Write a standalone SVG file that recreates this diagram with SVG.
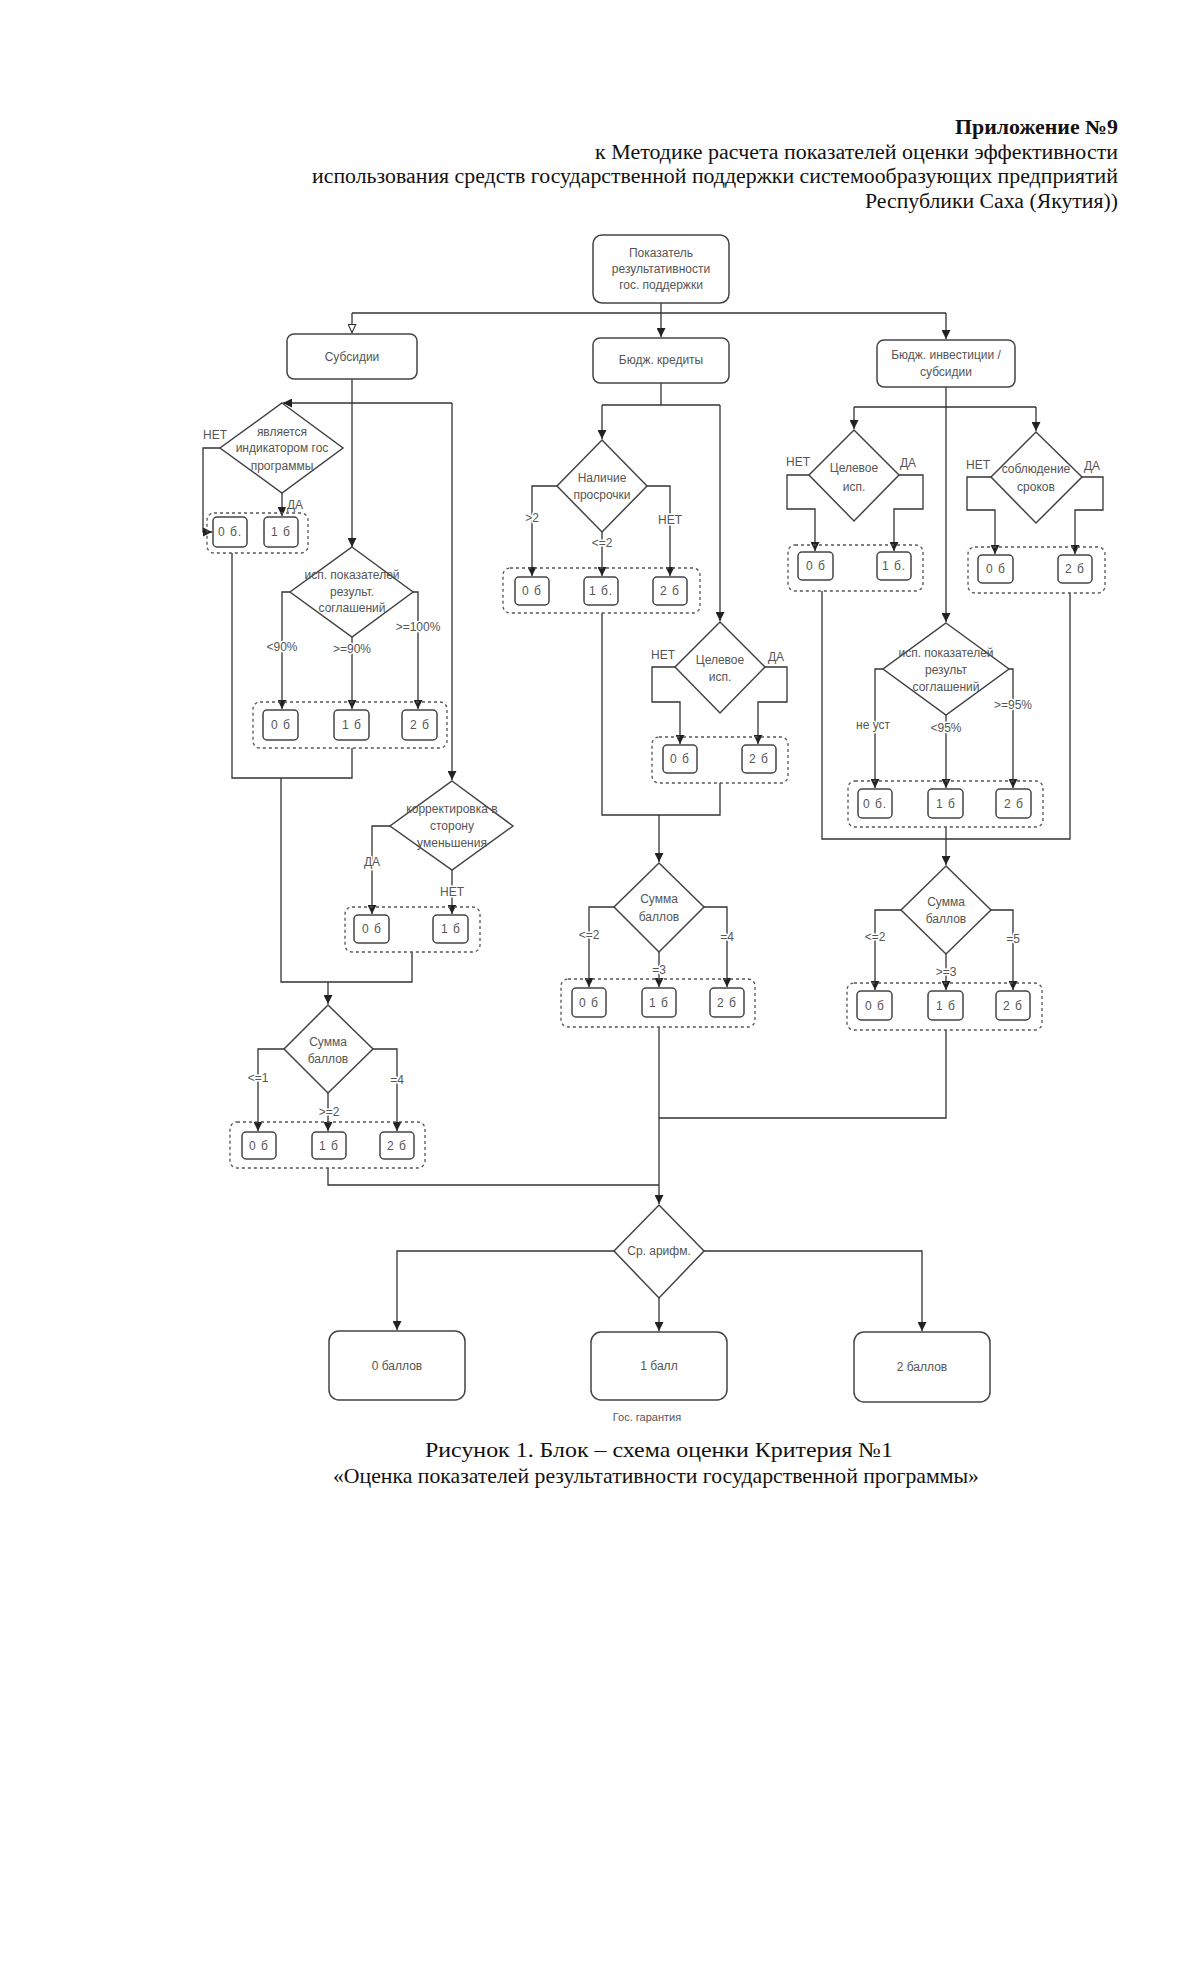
<svg xmlns="http://www.w3.org/2000/svg" width="1200" height="1976" viewBox="0 0 1200 1976">
<defs>
<style>
.hd{font-family:"Liberation Serif","Times New Roman",serif;font-size:20px;fill:#111}
.hb{font-weight:bold}
.cap{font-family:"Liberation Serif","Times New Roman",serif;font-size:21px;fill:#111;text-anchor:middle}
.t{font-family:"Liberation Sans",Arial,sans-serif;font-size:12px;fill:#555;text-anchor:middle}
.sm{font-size:11px}
.b{font-family:"Liberation Sans",Arial,sans-serif;font-size:12px;fill:#555;text-anchor:middle;letter-spacing:1px}
.l{font-family:"Liberation Sans",Arial,sans-serif;font-size:12px;fill:#555;text-anchor:middle;stroke:#fff;stroke-width:3px;paint-order:stroke;stroke-linejoin:round}
.nb{fill:#fff;stroke:#444;stroke-width:1.5}
.dm{fill:#fff;stroke:#444;stroke-width:1.5}
.sb{fill:#fff;stroke:#444;stroke-width:1.5}
.grp{fill:none;stroke:#555;stroke-width:1.3;stroke-dasharray:3 3}
.c{fill:none;stroke:#333;stroke-width:1.3}
.ca{fill:none;stroke:#333;stroke-width:1.3;marker-end:url(#a)}
.co{fill:none;stroke:#333;stroke-width:1.3;marker-end:url(#ao)}
</style>
<marker id="a" viewBox="0 0 10 10" refX="10" refY="5" markerWidth="9" markerHeight="9" markerUnits="userSpaceOnUse" orient="auto"><path d="M0,0 L10,5 L0,10 z" fill="#222"/></marker>
<marker id="ao" viewBox="0 0 10 10" refX="10" refY="5" markerWidth="9" markerHeight="9" markerUnits="userSpaceOnUse" orient="auto"><path d="M0.5,0.8 L9.5,5 L0.5,9.2 z" fill="#fff" stroke="#333" stroke-width="1.2"/></marker>
</defs>
<rect width="1200" height="1976" fill="#fff"/>

<g id="header">
<text class="hd hb" x="1118" y="134" text-anchor="end" textLength="163" lengthAdjust="spacingAndGlyphs">Приложение №9</text>
<text class="hd" x="1118" y="159" text-anchor="end" textLength="523" lengthAdjust="spacingAndGlyphs">к Методике расчета показателей оценки эффективности</text>
<text class="hd" x="1118" y="183" text-anchor="end" textLength="806" lengthAdjust="spacingAndGlyphs">использования средств государственной поддержки системообразующих предприятий</text>
<text class="hd" x="1118" y="208" text-anchor="end" textLength="253" lengthAdjust="spacingAndGlyphs">Республики Саха (Якутия))</text>
</g>

<g id="connectors">
<path class="c" d="M661,303 V313 M352,313 H946"/>
<path class="co" d="M352,313 V333"/>
<path class="ca" d="M661,313 V337"/>
<path class="ca" d="M946,313 V339"/>
<path class="ca" d="M352,379 V547"/>
<path class="ca" d="M452,403 H283"/>
<path class="ca" d="M452,403 V780"/>
<path class="ca" d="M220,448 H203 V532 H212"/>
<path class="ca" d="M282,493 V516"/>
<path class="c" d="M232,553 V778 H352 V748"/>
<path class="c" d="M281,778 V982 H412 V952"/>
<path class="ca" d="M328,982 V1004"/>
<path class="ca" d="M290,592 H282 V709"/>
<path class="ca" d="M352,637 V709"/>
<path class="ca" d="M413,592 H418 V709"/>
<path class="ca" d="M390,826 H372 V914"/>
<path class="ca" d="M452,870 V914"/>
<path class="ca" d="M284,1049 H258 V1131"/>
<path class="ca" d="M328,1093 V1131"/>
<path class="ca" d="M373,1049 H397 V1131"/>
<path class="c" d="M328,1168 V1185 H659"/>
<path class="c" d="M661,383 V405 M602,405 H720"/>
<path class="ca" d="M602,405 V439"/>
<path class="ca" d="M720,405 V621"/>
<path class="ca" d="M557,486 H532 V576"/>
<path class="ca" d="M602,532 V576"/>
<path class="ca" d="M647,486 H670 V576"/>
<path class="c" d="M602,613 V815 H720 V783"/>
<path class="ca" d="M659,815 V862"/>
<path class="ca" d="M675,667 H652 V702 H680 V744"/>
<path class="ca" d="M765,667 H787 V702 H758 V744"/>
<path class="ca" d="M614,907 H589 V987"/>
<path class="ca" d="M659,952 V987"/>
<path class="ca" d="M704,907 H727 V987"/>
<path class="ca" d="M659,1027 V1204"/>
<path class="ca" d="M946,387 V622"/>
<path class="c" d="M854,407 H1036"/>
<path class="ca" d="M854,407 V429"/>
<path class="ca" d="M1036,407 V431"/>
<path class="ca" d="M809,475 H787 V509 H815 V551"/>
<path class="ca" d="M899,475 H923 V509 H894 V551"/>
<path class="ca" d="M991,477 H967 V510 H995 V554"/>
<path class="ca" d="M1082,477 H1103 V510 H1075 V554"/>
<path class="c" d="M822,591 V839 H1070 V593"/>
<path class="ca" d="M946,827 V865"/>
<path class="ca" d="M883,669 H875 V788"/>
<path class="ca" d="M946,715 V788"/>
<path class="ca" d="M1009,669 H1013 V788"/>
<path class="ca" d="M901,910 H875 V990"/>
<path class="ca" d="M946,954 V990"/>
<path class="ca" d="M991,910 H1013 V990"/>
<path class="c" d="M946,1030 V1118 H659"/>
<path class="ca" d="M614,1251 H397 V1330"/>
<path class="ca" d="M704,1251 H922 V1331"/>
<path class="ca" d="M659,1298 V1331"/>
</g>

<g id="edge-labels">
<text class="l" x="215" y="439">НЕТ</text>
<text class="l" x="295" y="509">ДА</text>
<text class="l" x="282" y="651">&lt;90%</text>
<text class="l" x="352" y="653">&gt;=90%</text>
<text class="l" x="418" y="631">&gt;=100%</text>
<text class="l" x="372" y="866">ДА</text>
<text class="l" x="452" y="896">НЕТ</text>
<text class="l" x="258" y="1082">&lt;=1</text>
<text class="l" x="329" y="1116">&gt;=2</text>
<text class="l" x="397" y="1084">=4</text>
<text class="l" x="532" y="522">&gt;2</text>
<text class="l" x="602" y="547">&lt;=2</text>
<text class="l" x="670" y="524">НЕТ</text>
<text class="l" x="663" y="659">НЕТ</text>
<text class="l" x="776" y="661">ДА</text>
<text class="l" x="589" y="939">&lt;=2</text>
<text class="l" x="659" y="974">=3</text>
<text class="l" x="727" y="941">=4</text>
<text class="l" x="798" y="466">НЕТ</text>
<text class="l" x="908" y="467">ДА</text>
<text class="l" x="978" y="469">НЕТ</text>
<text class="l" x="1092" y="470">ДА</text>
<text class="l" x="873" y="729">не уст</text>
<text class="l" x="946" y="732">&lt;95%</text>
<text class="l" x="1013" y="709">&gt;=95%</text>
<text class="l" x="875" y="941">&lt;=2</text>
<text class="l" x="946" y="976">&gt;=3</text>
<text class="l" x="1013" y="943">=5</text>
</g>

<g id="n-root">
<rect class="nb" x="593" y="235" width="136" height="68" rx="9"/>
<text class="t" x="661" y="257">Показатель</text>
<text class="t" x="661" y="273">результативности</text>
<text class="t" x="661" y="289">гос. поддержки</text>
</g>
<g id="n-subsidii">
<rect class="nb" x="287" y="334" width="130" height="45" rx="7"/>
<text class="t" x="352" y="361">Субсидии</text>
</g>
<g id="n-kredity">
<rect class="nb" x="593" y="338" width="136" height="45" rx="7"/>
<text class="t" x="661" y="364">Бюдж. кредиты</text>
</g>
<g id="n-invest">
<rect class="nb" x="877" y="340" width="138" height="47" rx="7"/>
<text class="t" x="946" y="359">Бюдж. инвестиции /</text>
<text class="t" x="946" y="376">субсидии</text>
</g>

<g id="d-indikator">
<polygon class="dm" points="282,403 343,448 282,493 220,448"/>
<text class="t" x="282" y="436">является</text>
<text class="t" x="282" y="452">индикатором гос</text>
<text class="t" x="282" y="470">программы</text>
</g>
<g id="g1">
<rect class="grp" x="207" y="513" width="101" height="40" rx="7"/>
<rect class="sb" x="213" y="517" width="34" height="30" rx="4"/>
<text class="b" x="230" y="536">0 б.</text>
<rect class="sb" x="264" y="517" width="34" height="30" rx="4"/>
<text class="b" x="281" y="536">1 б</text>
</g>
<g id="d-isp-left">
<polygon class="dm" points="352,547 413,592 352,637 290,592"/>
<text class="t" x="352" y="579">исп. показателей</text>
<text class="t" x="352" y="596">результ.</text>
<text class="t" x="352" y="612">соглашений</text>
</g>
<g id="g2">
<rect class="grp" x="253" y="702" width="194" height="46" rx="7"/>
<rect class="sb" x="263" y="710" width="35" height="30" rx="4"/>
<text class="b" x="281" y="729">0 б</text>
<rect class="sb" x="334" y="710" width="35" height="30" rx="4"/>
<text class="b" x="352" y="729">1 б</text>
<rect class="sb" x="402" y="710" width="35" height="30" rx="4"/>
<text class="b" x="420" y="729">2 б</text>
</g>
<g id="d-korrekt">
<polygon class="dm" points="452,781 513,826 452,870 390,826"/>
<text class="t" x="452" y="813">корректировка в</text>
<text class="t" x="452" y="830">сторону</text>
<text class="t" x="452" y="847">уменьшения</text>
</g>
<g id="g3">
<rect class="grp" x="345" y="907" width="135" height="45" rx="7"/>
<rect class="sb" x="354" y="915" width="35" height="28" rx="4"/>
<text class="b" x="372" y="933">0 б</text>
<rect class="sb" x="433" y="915" width="35" height="28" rx="4"/>
<text class="b" x="451" y="933">1 б</text>
</g>
<g id="d-summa-left">
<polygon class="dm" points="328,1005 373,1049 328,1093 284,1049"/>
<text class="t" x="328" y="1046">Сумма</text>
<text class="t" x="328" y="1063">баллов</text>
</g>
<g id="g4">
<rect class="grp" x="230" y="1122" width="195" height="46" rx="7"/>
<rect class="sb" x="242" y="1132" width="34" height="27" rx="4"/>
<text class="b" x="259" y="1150">0 б</text>
<rect class="sb" x="312" y="1132" width="34" height="27" rx="4"/>
<text class="b" x="329" y="1150">1 б</text>
<rect class="sb" x="380" y="1132" width="34" height="27" rx="4"/>
<text class="b" x="397" y="1150">2 б</text>
</g>

<g id="d-prosrochki">
<polygon class="dm" points="602,440 647,486 602,532 557,486"/>
<text class="t" x="602" y="482">Наличие</text>
<text class="t" x="602" y="499">просрочки</text>
</g>
<g id="g5">
<rect class="grp" x="503" y="568" width="197" height="45" rx="7"/>
<rect class="sb" x="515" y="577" width="34" height="28" rx="4"/>
<text class="b" x="532" y="595">0 б</text>
<rect class="sb" x="584" y="577" width="34" height="28" rx="4"/>
<text class="b" x="601" y="595">1 б.</text>
<rect class="sb" x="653" y="577" width="34" height="28" rx="4"/>
<text class="b" x="670" y="595">2 б</text>
</g>
<g id="d-celevoe-mid">
<polygon class="dm" points="720,622 765,667 720,713 675,667"/>
<text class="t" x="720" y="664">Целевое</text>
<text class="t" x="720" y="681">исп.</text>
</g>
<g id="g6">
<rect class="grp" x="652" y="737" width="136" height="46" rx="7"/>
<rect class="sb" x="663" y="745" width="34" height="28" rx="4"/>
<text class="b" x="680" y="763">0 б</text>
<rect class="sb" x="742" y="745" width="34" height="28" rx="4"/>
<text class="b" x="759" y="763">2 б</text>
</g>
<g id="d-summa-mid">
<polygon class="dm" points="659,863 704,907 659,952 614,907"/>
<text class="t" x="659" y="903">Сумма</text>
<text class="t" x="659" y="921">баллов</text>
</g>
<g id="g7">
<rect class="grp" x="561" y="979" width="194" height="48" rx="7"/>
<rect class="sb" x="572" y="988" width="34" height="29" rx="4"/>
<text class="b" x="589" y="1007">0 б</text>
<rect class="sb" x="642" y="988" width="34" height="29" rx="4"/>
<text class="b" x="659" y="1007">1 б</text>
<rect class="sb" x="710" y="988" width="34" height="29" rx="4"/>
<text class="b" x="727" y="1007">2 б</text>
</g>

<g id="d-celevoe-right">
<polygon class="dm" points="854,430 899,475 854,521 809,475"/>
<text class="t" x="854" y="472">Целевое</text>
<text class="t" x="854" y="491">исп.</text>
</g>
<g id="g8">
<rect class="grp" x="788" y="545" width="135" height="46" rx="7"/>
<rect class="sb" x="798" y="552" width="35" height="28" rx="4"/>
<text class="b" x="816" y="570">0 б</text>
<rect class="sb" x="877" y="552" width="34" height="28" rx="4"/>
<text class="b" x="894" y="570">1 б.</text>
</g>
<g id="d-sroki">
<polygon class="dm" points="1036,432 1082,477 1036,523 991,477"/>
<text class="t" x="1036" y="473">соблюдение</text>
<text class="t" x="1036" y="491">сроков</text>
</g>
<g id="g9">
<rect class="grp" x="968" y="547" width="137" height="46" rx="7"/>
<rect class="sb" x="978" y="555" width="35" height="28" rx="4"/>
<text class="b" x="996" y="573">0 б</text>
<rect class="sb" x="1058" y="555" width="34" height="28" rx="4"/>
<text class="b" x="1075" y="573">2 б</text>
</g>
<g id="d-isp-right">
<polygon class="dm" points="946,623 1009,669 946,715 883,669"/>
<text class="t" x="946" y="657">исп. показателей</text>
<text class="t" x="946" y="674">результ</text>
<text class="t" x="946" y="691">соглашений</text>
</g>
<g id="g10">
<rect class="grp" x="848" y="781" width="195" height="46" rx="7"/>
<rect class="sb" x="858" y="789" width="34" height="29" rx="4"/>
<text class="b" x="875" y="808">0 б.</text>
<rect class="sb" x="928" y="789" width="35" height="29" rx="4"/>
<text class="b" x="946" y="808">1 б</text>
<rect class="sb" x="996" y="789" width="35" height="29" rx="4"/>
<text class="b" x="1014" y="808">2 б</text>
</g>
<g id="d-summa-right">
<polygon class="dm" points="946,866 991,910 946,954 901,910"/>
<text class="t" x="946" y="906">Сумма</text>
<text class="t" x="946" y="923">баллов</text>
</g>
<g id="g11">
<rect class="grp" x="847" y="983" width="195" height="47" rx="7"/>
<rect class="sb" x="857" y="991" width="35" height="29" rx="4"/>
<text class="b" x="875" y="1010">0 б</text>
<rect class="sb" x="928" y="991" width="35" height="29" rx="4"/>
<text class="b" x="946" y="1010">1 б</text>
<rect class="sb" x="996" y="991" width="34" height="29" rx="4"/>
<text class="b" x="1013" y="1010">2 б</text>
</g>

<g id="d-arifm">
<polygon class="dm" points="659,1205 704,1251 659,1298 614,1251"/>
<text class="t" x="659" y="1255">Ср. арифм.</text>
</g>
<g id="r-0">
<rect class="nb" x="329" y="1331" width="136" height="69" rx="10"/>
<text class="t" x="397" y="1370">0 баллов</text>
</g>
<g id="r-1">
<rect class="nb" x="591" y="1332" width="136" height="68" rx="10"/>
<text class="t" x="659" y="1370">1 балл</text>
</g>
<g id="r-2">
<rect class="nb" x="854" y="1332" width="136" height="70" rx="10"/>
<text class="t" x="922" y="1371">2 баллов</text>
</g>
<text class="t sm" x="647" y="1421">Гос. гарантия</text>

<g id="caption">
<text class="cap" x="659" y="1457" textLength="468" lengthAdjust="spacingAndGlyphs">Рисунок 1. Блок – схема оценки Критерия №1</text>
<text class="cap" x="656" y="1483" textLength="646" lengthAdjust="spacingAndGlyphs">«Оценка показателей результативности государственной программы»</text>
</g>
</svg>
